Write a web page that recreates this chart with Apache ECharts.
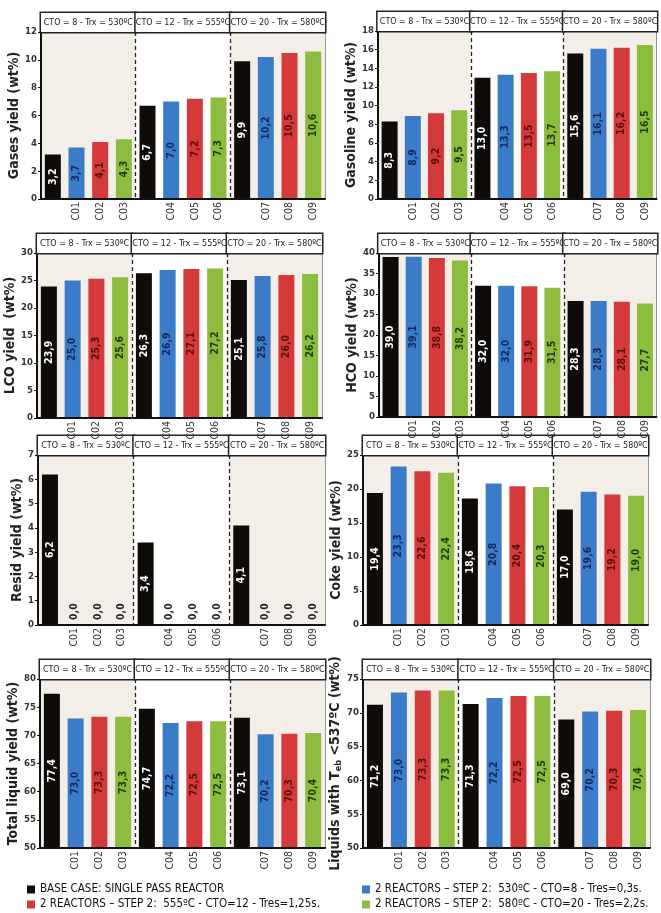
<!DOCTYPE html>
<html><head><meta charset="utf-8">
<script src="https://cdn.jsdelivr.net/npm/echarts@6/dist/echarts.min.js"></script>
<style>html,body{margin:0;padding:0;background:#fff}#c{width:661px;height:913px}</style>
</head><body><div id="c"></div>
<script>
// ---------- data ----------
const groupHeaders = ['CTO = 8 - Trx = 530ºC', 'CTO = 12 - Trx = 555ºC', 'CTO = 20 - Trx = 580ºC'];
const xLabels = ['', 'C01', 'C02', 'C03', '', 'C04', 'C05', 'C06', '', 'C07', 'C08', 'C09'];
const seriesNames = [
  'BASE CASE: SINGLE PASS REACTOR',
  '2 REACTORS – STEP 2:  530ºC - CTO=8 - Tres=0,3s.',
  '2 REACTORS – STEP 2:  555ºC - CTO=12 - Tres=1,25s.',
  '2 REACTORS – STEP 2:  580ºC - CTO=20 - Tres=2,2s.'
];
// values per group (CTO 8 / 12 / 20)
const gasesBase = [3.2, 6.7, 9.9];
const gases530 = [3.7, 7.0, 10.2];
const gases555 = [4.1, 7.2, 10.5];
const gases580 = [4.3, 7.3, 10.6];

const gasolineBase = [8.3, 13.0, 15.6];
const gasoline530 = [8.9, 13.3, 16.1];
const gasoline555 = [9.2, 13.5, 16.2];
const gasoline580 = [9.5, 13.7, 16.5];

const lcoBase = [23.9, 26.3, 25.1];
const lco530 = [25.0, 26.9, 25.8];
const lco555 = [25.3, 27.1, 26.0];
const lco580 = [25.6, 27.2, 26.2];

const hcoBase = [39.0, 32.0, 28.3];
const hco530 = [39.1, 32.0, 28.3];
const hco555 = [38.8, 31.9, 28.1];
const hco580 = [38.2, 31.5, 27.7];

const residBase = [6.2, 3.4, 4.1];
const resid530 = [0.0, 0.0, 0.0];
const resid555 = [0.0, 0.0, 0.0];
const resid580 = [0.0, 0.0, 0.0];

const cokeBase = [19.4, 18.6, 17.0];
const coke530 = [23.3, 20.8, 19.6];
const coke555 = [22.6, 20.4, 19.2];
const coke580 = [22.4, 20.3, 19.0];

const totalLiqBase = [77.4, 74.7, 73.1];
const totalLiq530 = [73.0, 72.2, 70.2];
const totalLiq555 = [73.3, 72.5, 70.3];
const totalLiq580 = [73.3, 72.5, 70.4];

const liq537Base = [71.2, 71.3, 69.0];
const liq537_530 = [73.0, 72.2, 70.2];
const liq537_555 = [73.3, 72.5, 70.3];
const liq537_580 = [73.3, 72.5, 70.4];

// ---------- layout / style ----------
const FONT = "'Liberation Sans Narrow','DejaVu Sans Condensed','Roboto',sans-serif";
const barColors = ['#0e0b09', '#3b7cc9', '#d43a3a', '#8cbd3e'];
const labelColors = ['#ffffff', '#14285c', '#5a0e0e', '#1f3c0c'];

const panels = [
  { name: 'Gases yield (wt%)', min: 0, max: 12, interval: 2, vals: [gasesBase, gases530, gases555, gases580], rect: [41, 32, 325, 199] },
  { name: 'Gasoline yield (wt%)', min: 0, max: 18, interval: 2, vals: [gasolineBase, gasoline530, gasoline555, gasoline580], rect: [378, 31, 659, 199] },
  { name: 'LCO yield  (wt%)', min: 0, max: 30, interval: 5, vals: [lcoBase, lco530, lco555, lco580], rect: [37, 253, 322, 418] },
  { name: 'HCO yield (wt%)', min: 0, max: 40, interval: 5, vals: [hcoBase, hco530, hco555, hco580], rect: [379, 253, 660, 417] },
  { name: 'Resid yield (wt%)', min: 0, max: 7, interval: 1, vals: [residBase, resid530, resid555, resid580], rect: [38, 455, 325, 625] },
  { name: 'Coke yield (wt%)', min: 0, max: 25, interval: 5, vals: [cokeBase, coke530, coke555, coke580], rect: [363, 455, 648, 625] },
  { name: 'Total liquid yield (wt%)', min: 50, max: 80, interval: 5, vals: [totalLiqBase, totalLiq530, totalLiq555, totalLiq580], rect: [40, 679, 325, 848] },
  { name: 'Liquids with T{sub|eb} <537ºC (wt%)', min: 50, max: 75, interval: 5, vals: [liq537Base, liq537_530, liq537_555, liq537_580], rect: [363, 679, 650, 848] }
];

const fmt = v => Number(v).toFixed(1).replace('.', ',');

function spread(vals, slot) {
  const out = [];
  for (let g = 0; g < 3; g++) {
    for (let k = 0; k < 4; k++) {
      if (k === slot) {
        const v = vals[g];
        if (v === 0) {
          out.push({ value: v, label: { position: 'insideBottom', distance: 5, align: 'left', verticalAlign: 'middle', color: '#222' } });
        } else out.push(v);
      } else out.push('-');
    }
  }
  return out;
}

const grid = [], xAxis = [], yAxis = [], series = [];
panels.forEach((p, i) => {
  const [l, t, r, b] = p.rect;
  const w = r - l, h = b - t;
  grid.push({ left: l, top: t, width: w, height: h, show: true, borderColor: '#333', borderWidth: 1, backgroundColor: 'transparent' });
  xAxis.push({
    gridIndex: i, type: 'category', data: xLabels, z: 6,
    axisLine: { lineStyle: { color: '#111', width: 2 } },
    axisTick: { show: false },
    axisLabel: { interval: 0, rotate: 90, fontSize: 10.5, color: '#333', margin: 3, fontFamily: FONT }
  });
  xAxis.push({
    gridIndex: i, type: 'category', position: 'top', data: groupHeaders,
    axisLine: { show: false }, axisTick: { show: false },
    axisLabel: {
      interval: 0, margin: 0, width: w / 3, height: 19, lineHeight: 19,
      backgroundColor: '#fff', borderColor: '#222', borderWidth: 1.5,
      fontSize: 8.9, color: '#222', fontFamily: FONT, align: 'center'
    },
    splitArea: { show: true, areaStyle: { color: ['#f3eee7', '#ffffff', '#f3eee7'] } },
    splitLine: { show: true, showMinLine: false, showMaxLine: false, lineStyle: { type: [4, 3], color: '#222', width: 1.3 } }
  });
  yAxis.push({
    gridIndex: i, type: 'value', min: p.min, max: p.max, interval: p.interval,
    name: p.name, nameLocation: 'middle', nameGap: 13,
    nameTextStyle: {
      fontSize: 14, fontWeight: 'bold', color: '#222', fontFamily: FONT,
      rich: { sub: { fontSize: 9, fontWeight: 'bold', color: '#222', fontFamily: FONT, padding: [7, 0, 0, 0] } }
    },
    axisLine: { show: true, lineStyle: { color: '#111', width: 2 } },
    axisTick: { show: true, length: 3, lineStyle: { color: '#111' } },
    axisLabel: { fontSize: 9.5, fontWeight: 'bold', color: '#333', margin: 4, fontFamily: FONT },
    splitLine: { show: false }
  });
  for (let s = 0; s < 4; s++) {
    series.push({
      type: 'bar', name: seriesNames[s], xAxisIndex: 2 * i, yAxisIndex: i,
      data: spread(p.vals[s], s), barWidth: 16, barGap: '-100%',
      itemStyle: { color: barColors[s] },
      label: {
        show: true, position: 'inside', rotate: 90, fontSize: 10.5, fontWeight: 'bold',
        color: labelColors[s], fontFamily: FONT, formatter: q => fmt(q.value)
      }
    });
  }
});

const legendCommon = {
  orient: 'vertical', icon: 'rect', itemWidth: 8, itemHeight: 8, itemGap: 2, padding: 0,
  textStyle: { fontSize: 11.5, color: '#111', fontFamily: FONT, lineHeight: 13 }
};

const chart = echarts.init(document.getElementById('c'), null, { renderer: 'canvas' });
chart.setOption({
  animation: false,
  backgroundColor: '#fff',
  grid, xAxis, yAxis, series,
  legend: [
    Object.assign({ left: 27, top: 883, data: [seriesNames[0], seriesNames[2]] }, legendCommon),
    Object.assign({ left: 362, top: 883, data: [seriesNames[1], seriesNames[3]] }, legendCommon)
  ]
});
</script></body></html>
